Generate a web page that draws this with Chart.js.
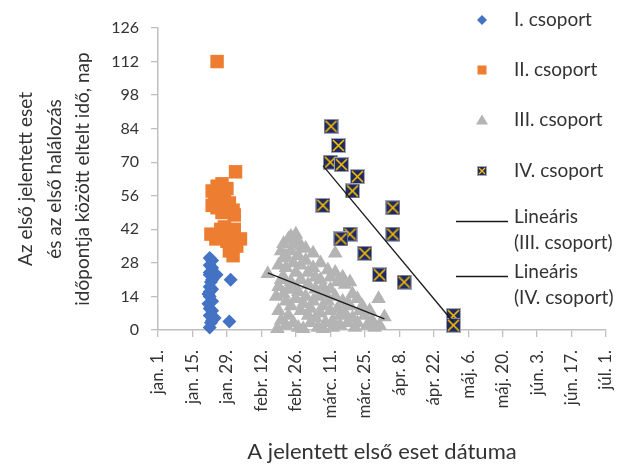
<!DOCTYPE html>
<html>
<head>
<meta charset="utf-8">
<script src="https://cdn.jsdelivr.net/npm/chart.js@4.4.0/dist/chart.umd.min.js"></script>
<style>
  body { margin: 0; background: #fff; }
</style>
</head>
<body>
<canvas id="myChart" width="620" height="465"></canvas>
<script>
// x = napok jan. 1. óta (2020), y = eltelt idő napban
const tickLabels = ["jan. 1.", "jan. 15.", "jan. 29.", "febr. 12.", "febr. 26.", "márc. 11.", "márc. 25.",
  "ápr. 8.", "ápr. 22.", "máj. 6.", "máj. 20.", "jún. 3.", "jún. 17.", "júl. 1."];

const groupIDays = [21, 21.5, 22, 21, 22, 21, 20.5, 22, 21, 20.5, 22, 21, 21.5, 22, 21, 23.8, 21, 22, 21, 22, 21, 21, 23, 29.5, 29];
const groupIValues = [1, 3, 4, 6, 8, 9, 11, 12, 14, 15, 17, 18, 20, 21, 23, 23, 24, 26, 27, 29, 30, 16, 5, 21, 3.5];

const groupIIDays = [24, 31.5, 22, 24, 26, 28, 23, 25, 27, 22, 24, 29, 30.5, 31, 26,
  21.5, 23.5, 25.5, 27, 29, 28, 30, 31, 33.5, 32, 30.5, 29];
const groupIIValues = [112, 66, 58, 60, 61, 59, 55, 56, 54, 52, 51, 53, 50, 48, 49,
  40, 38, 42, 43, 40, 37, 36, 42, 38, 35, 31, 33];

const groupIIIDays = [44.6,
  48.5, 49, 48, 49, 50, 49, 50, 50,
  51, 51, 52, 52, 51, 53, 52, 51, 52, 53, 53,
  54, 55, 54, 55, 54, 55, 54, 55, 56, 56, 56,
  57, 57, 58, 58, 57, 58, 57, 59, 59, 58,
  60, 60, 61, 61, 60, 61, 62, 62,
  63, 63, 64, 64, 63, 64, 65, 65,
  66, 66, 67, 67, 66, 68, 68, 67,
  69, 70, 69, 70, 70, 71, 71,
  72, 72, 73, 72, 73, 74, 74,
  75, 76, 75, 76, 77, 77,
  78, 79, 78, 79, 80,
  81, 82, 81, 83,
  84, 85, 86, 87,
  88, 89.6, 92, 90];
const groupIIIValues = [23.5,
  0.5, 8, 14, 18, 4, 27, 33, 21,
  30, 22, 12, 26, 15, 6, 2, 36, 31, 38, 17,
  39, 36, 33, 28, 20, 17, 10, 3, 24, 13, 40,
  37, 31, 27, 21, 16, 8, 1, 0.5, 11, 35,
  34, 29, 24, 19, 14, 6, 3, 9,
  32, 26, 22, 17, 12, 5, 1, 14,
  28, 21, 18, 10, 7, 3, 15, 0.5,
  25, 22, 12, 8, 17, 4, 1,
  32, 24, 20, 14, 9, 2, 6,
  22, 19, 12, 7, 3, 11,
  20, 15, 10, 5, 1,
  13, 8, 3, 10,
  6, 2, 8, 4,
  1, 13, 5.4, 2];

const groupIVDays = [70.3, 73.3, 70, 74.5, 81, 79, 67, 95.4, 78, 74.3, 95.4, 84, 90, 100, 120, 120];
const groupIVValues = [85, 77, 70, 69, 64, 58, 52, 51, 40, 38, 40, 32, 23, 20, 6, 2];

const toPoints = (xs, ys) => xs.map((x, i) => ({ x: x, y: ys[i] }));

// lineáris trend (legkisebb négyzetek), a sorozat első és utolsó x-e között
function trend(xs, ys) {
  const n = xs.length;
  const mx = xs.reduce((a, b) => a + b) / n;
  const my = ys.reduce((a, b) => a + b) / n;
  let sxy = 0, sxx = 0;
  xs.forEach((x, i) => { sxy += (x - mx) * (ys[i] - my); sxx += (x - mx) * (x - mx); });
  const b = sxy / sxx, a = my - b * mx;
  const x0 = Math.min(...xs), x1 = Math.max(...xs);
  return [{ x: x0, y: a + b * x0 }, { x: x1, y: a + b * x1 }];
}

function ivMarker(size) {
  const c = document.createElement("canvas");
  c.width = size; c.height = size;
  const g = c.getContext("2d");
  g.fillStyle = "#1F2B5E";
  g.fillRect(0, 0, size, size);
  g.strokeStyle = "#A3A7BC";
  g.lineWidth = 1;
  g.strokeRect(0.5, 0.5, size - 1, size - 1);
  g.strokeStyle = "#FFC000";
  g.lineWidth = size > 12 ? 1.6 : 1.2;
  g.beginPath();
  g.moveTo(2, 2); g.lineTo(size - 2, size - 2);
  g.moveTo(size - 2, 2); g.lineTo(2, size - 2);
  g.stroke();
  return c;
}
const ivBig = ivMarker(15);
const ivSmall = ivMarker(10);

const textColor = "#333333";
const axisColor = "#BFBFBF";
Chart.defaults.font.family = "Lato, 'Open Sans', sans-serif";
Chart.defaults.color = textColor;

// jelmagyarázat a rajzterületen belül, ahogy az Excel teszi
const legendRows = [20, 70, 120, 171, 230, 285];
const sideLegend = {
  id: "sideLegend",
  afterDraw(chart) {
    const ctx = chart.ctx;
    ctx.save();
    ctx.font = "19px Lato, 'Open Sans', sans-serif";
    ctx.fillStyle = textColor;
    ctx.textBaseline = "middle";
    ctx.textAlign = "left";
    const mx = 482, tx = 514;
    chart.data.datasets.forEach((ds, i) => {
      const y = legendRows[i];
      if (ds.showLine) {
        const parts = ds.label.split(" (");
        ctx.fillStyle = textColor;
        ctx.fillText(parts[0], tx, y - 13);
        ctx.fillText("(" + parts[1], tx, y + 13);
        ctx.strokeStyle = ds.borderColor;
        ctx.lineWidth = 1.3;
        ctx.beginPath();
        ctx.moveTo(456, y - 8.5);
        ctx.lineTo(508, y - 8.5);
        ctx.stroke();
        return;
      }
      ctx.fillStyle = ds.backgroundColor;
      ctx.beginPath();
      if (ds.pointStyle === "rectRot") {
        ctx.moveTo(mx, y - 5); ctx.lineTo(mx + 5, y); ctx.lineTo(mx, y + 5); ctx.lineTo(mx - 5, y);
        ctx.fill();
      } else if (ds.pointStyle === "rect") {
        ctx.fillRect(mx - 4.5, y - 4.5, 9, 9);
      } else if (ds.pointStyle === "triangle") {
        ctx.moveTo(mx, y - 5.5); ctx.lineTo(mx + 6, y + 4.5); ctx.lineTo(mx - 6, y + 4.5);
        ctx.fill();
      } else {
        ctx.drawImage(ivSmall, mx - 5, y - 5);
      }
      ctx.fillStyle = textColor;
      ctx.fillText(ds.label, tx, y);
    });
    ctx.restore();
  }
};

const data = {
  datasets: [
    {
      label: "I. csoport",
      data: toPoints(groupIDays, groupIValues),
      pointStyle: "rectRot",
      pointRadius: 7,
      backgroundColor: "#4472C4",
      borderColor: "#4472C4",
      borderWidth: 0,
      order: 6,
    },
    {
      label: "II. csoport",
      data: toPoints(groupIIDays, groupIIValues),
      pointStyle: "rect",
      pointRadius: 9.5,
      backgroundColor: "#ED7D31",
      borderColor: "#ED7D31",
      borderWidth: 0,
      order: 5,
    },
    {
      label: "III. csoport",
      data: toPoints(groupIIIDays, groupIIIValues),
      pointStyle: "triangle",
      pointRadius: 8.5,
      backgroundColor: "#B4B4B4",
      borderColor: "#B4B4B4",
      borderWidth: 0,
      order: 4,
    },
    {
      label: "IV. csoport",
      data: toPoints(groupIVDays, groupIVValues),
      pointStyle: ivBig,
      pointRadius: 8,
      backgroundColor: "#1F2B5E",
      order: 3,
    },
    {
      label: "Lineáris (III. csoport)",
      data: trend(groupIIIDays, groupIIIValues),
      showLine: true,
      pointRadius: 0,
      borderColor: "#1A1A1A",
      borderWidth: 1.3,
      order: 2,
    },
    {
      label: "Lineáris (IV. csoport)",
      data: trend(groupIVDays, groupIVValues),
      showLine: true,
      pointRadius: 0,
      borderColor: "#1A1A1A",
      borderWidth: 1.3,
      order: 1,
    },
  ],
};

const config = {
  type: "scatter",
  data: data,
  options: {
    responsive: false,
    animation: false,
    devicePixelRatio: 1,
    clip: false,
    layout: { padding: { top: 28, right: 14, left: 0, bottom: 0 } },
    plugins: {
      legend: { display: false },
      tooltip: { enabled: false },
    },
    scales: {
      x: {
        type: "linear",
        min: 0,
        max: 182,
        afterFit: (s) => { s.height = 135; s.paddingLeft = 0; s.paddingRight = 0; },
        grid: { drawOnChartArea: false, drawTicks: true, tickLength: 7, color: axisColor, lineWidth: 1.3 },
        border: { color: axisColor, width: 1.5 },
        ticks: {
          stepSize: 14,
          autoSkip: false,
          minRotation: 90,
          maxRotation: 90,
          padding: 13,
          font: { size: 17 },
          callback: (v) => tickLabels[Math.round(v / 14)],
        },
        title: {
          display: true,
          text: "A jelentett első eset dátuma",
          font: { size: 22 },
          padding: { top: 0, bottom: 0 },
        },
      },
      y: {
        min: 0,
        max: 126,
        afterFit: (s) => { s.width = 158; },
        grid: { drawOnChartArea: false, drawTicks: true, tickLength: 7, color: axisColor, lineWidth: 1.3 },
        border: { color: axisColor, width: 1.5 },
        ticks: { stepSize: 14, padding: 12, font: { size: 16 } },
        title: {
          display: true,
          text: ["Az első jelentett eset", "és az első halálozás", "időpontja között eltelt idő, nap"],
          font: { size: 19, lineHeight: 1.5 },
          padding: { top: 12, bottom: 0 },
        },
      },
    },
  },
  plugins: [sideLegend],
};

let context = document.getElementById("myChart").getContext("2d");
let chart = new Chart(context, config);
</script>
</body>
</html>
